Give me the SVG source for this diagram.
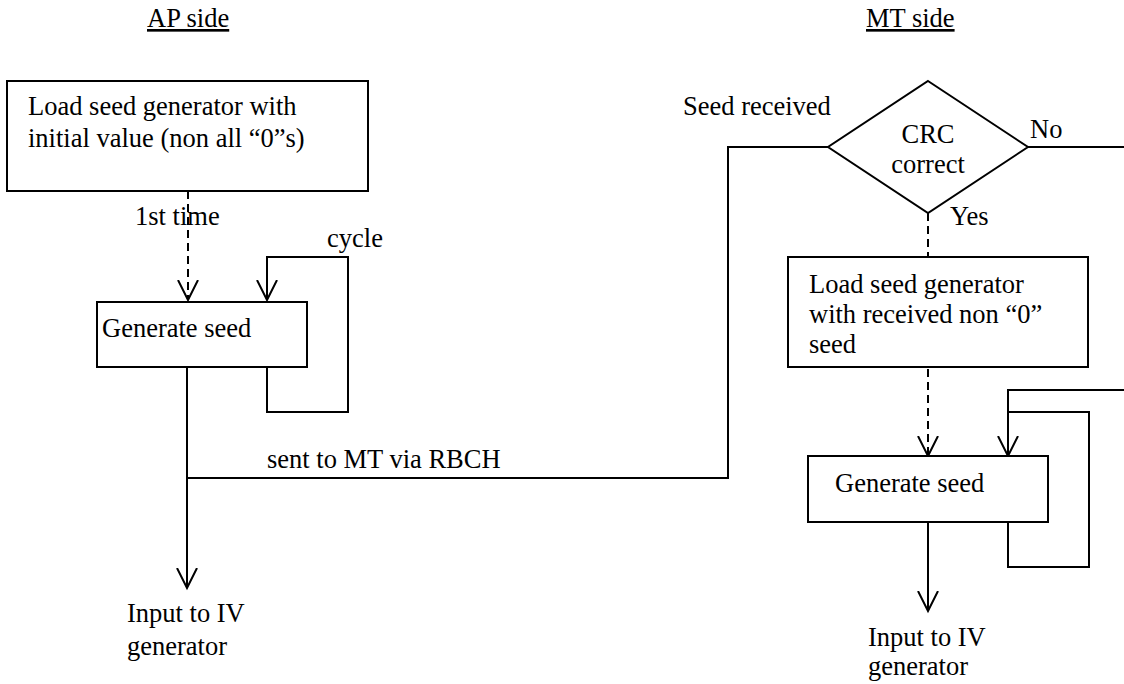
<svg xmlns="http://www.w3.org/2000/svg" width="1124" height="684" viewBox="0 0 1124 684">
<style>
text{font-family:"Liberation Serif","Times New Roman",serif;font-size:26.5px;fill:#000}
.b{fill:#fff;stroke:#000;stroke-width:2}
.l{fill:none;stroke:#000;stroke-width:2}
.d{fill:none;stroke:#000;stroke-width:2;stroke-dasharray:8,5}
.u{text-decoration:underline}
</style>
<defs>
<marker id="v" markerWidth="24" markerHeight="24" refX="20" refY="10" orient="auto" markerUnits="userSpaceOnUse" viewBox="0 0 24 20">
<path d="M0,0 L20,10 L0,20" fill="none" stroke="#000" stroke-width="2"/>
</marker>
</defs>
<rect width="1124" height="684" fill="#fff"/>
<text x="147" y="27" class="u">AP side</text>
<text x="866" y="27" class="u">MT side</text>
<g id="connectors">
<path class="d" d="M188,191 V300" marker-end="url(#v)"/>
<path class="l" d="M267,367 V412 H348 V257 H267 V300" marker-end="url(#v)"/>
<path class="l" d="M187,367 V588" marker-end="url(#v)"/>
<path class="l" d="M187,478 H728 V147 H828"/>
<path class="l" d="M1028,147 H1124"/>
<path class="d" d="M928,213 V456" marker-end="url(#v)"/>
<path class="l" d="M1124,390 H1008 V456" marker-end="url(#v)"/>
<path class="l" d="M1008,522 V567 H1089 V412 H1008"/>
<path class="l" d="M928,522 V611" marker-end="url(#v)"/>
<text x="135" y="225">1st time</text>
<text x="327" y="247">cycle</text>
<text x="267" y="468">sent to MT via RBCH</text>
<text x="683" y="115">Seed received</text>
<text x="1030" y="138">No</text>
<text x="950" y="225">Yes</text>
</g>
<g id="load-ap">
<rect class="b" x="7" y="81" width="361" height="110"/>
<text x="28" y="115">Load seed generator with</text>
<text x="28" y="147">initial value (non all “0”s)</text>
</g>
<g id="gen-ap">
<rect class="b" x="97" y="302" width="210" height="65"/>
<text x="102" y="337">Generate seed</text>
</g>
<g id="out-ap">
<text x="127" y="622">Input to IV</text>
<text x="127" y="655">generator</text>
</g>
<g id="crc">
<path class="b" d="M928,81 L1028,147 L928,213 L828,147 Z"/>
<text x="928" y="143" text-anchor="middle">CRC</text>
<text x="928" y="173" text-anchor="middle">correct</text>
</g>
<g id="load-mt">
<rect class="b" x="788" y="257" width="300" height="110"/>
<text x="809" y="293">Load seed generator</text>
<text x="809" y="323">with received non “0”</text>
<text x="809" y="353">seed</text>
</g>
<g id="gen-mt">
<rect class="b" x="808" y="456" width="240" height="66"/>
<text x="835" y="492">Generate seed</text>
</g>
<g id="out-mt">
<text x="868" y="646">Input to IV</text>
<text x="868" y="675">generator</text>
</g>
</svg>
